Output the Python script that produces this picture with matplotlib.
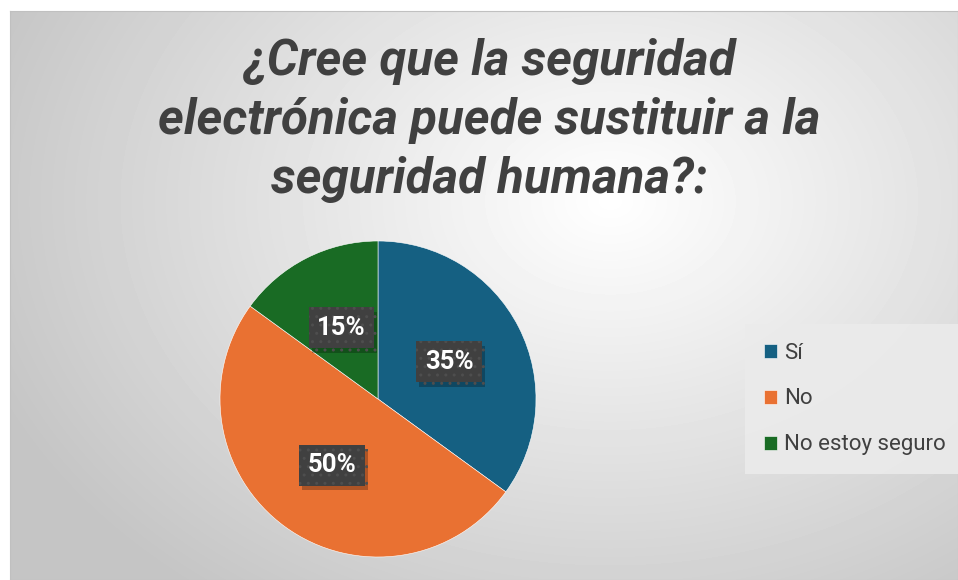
import numpy as np
import matplotlib
matplotlib.use("Agg")
import matplotlib.pyplot as plt
from matplotlib import patheffects

# Chart data
labels = ["Sí", "No", "No estoy seguro"]
values = [35, 50, 15]
colors = ["#156082", "#E97132", "#196B24"]
title = "¿Cree que la seguridad\nelectrónica puede sustituir a la\nseguridad humana?:"

plt.rcParams["hatch.linewidth"] = 1.0

fig = plt.figure(figsize=(9.58, 5.80), dpi=100)
fig.patch.set_facecolor("white")

# gradient background panel (chart area)
bg = fig.add_axes([10 / 958, 0, 948 / 958, 569 / 580])
yy, xx = np.mgrid[0:569, 0:948]
d = np.sqrt(((xx - 600) / 700.0) ** 2 + ((yy - 190) / 520.0) ** 2)
shade = np.clip(1.0 - 0.24 * d, 0.77, 1.0)
bg.imshow(shade, cmap="gray", vmin=0, vmax=1, aspect="auto", interpolation="bilinear")
bg.set_xticks([])
bg.set_yticks([])
for s in bg.spines.values():
    s.set_color("#c0c0c0")
    s.set_linewidth(0.8)

fig.text(0.511, 0.935, title, ha="center", va="top", fontsize=35.5,
         fontweight="bold", fontstyle="italic", color="#404040",
         family="Roboto", linespacing=1.33)

# pie axes
r = 158
cx, cy = 378, 399
ax = fig.add_axes([(cx - r) / 958, (580 - cy - r) / 580, 2 * r / 958, 2 * r / 580])
wedges, _ = ax.pie(values, colors=colors, startangle=90, counterclock=False,
                   wedgeprops=dict(edgecolor="white", linewidth=0.4))
ax.set_xlim(-1, 1)
ax.set_ylim(-1, 1)

# data labels
label_pos = [(0.45, 0.235), (-0.29, -0.42), (-0.23, 0.45)]
for v, (lx, ly) in zip(values, label_pos):
    t = ax.text(lx, ly, f"{v}%", ha="center", va="center", fontsize=18.5,
                fontweight="bold", color="white", family="Roboto",
                bbox=dict(boxstyle="square,pad=0.33", facecolor="#404040",
                          edgecolor="#4e4e4e", linewidth=0, hatch=".."))
    t.get_bbox_patch().set_path_effects(
        [patheffects.withSimplePatchShadow(offset=(2, -3), shadow_rgbFace="#000000", alpha=0.25)])

# legend
leg = fig.legend(wedges, labels, loc="center left", bbox_to_anchor=(745 / 958, 1 - 399 / 580),
                 frameon=True, handlelength=0.6, handleheight=0.6,
                 handletextpad=0.3, labelspacing=1.12, borderpad=0.85, borderaxespad=0,
                 prop={"family": "Roboto", "size": 16})
leg.get_frame().set_facecolor("#ebebeb")
leg.get_frame().set_edgecolor("none")
leg.get_frame().set_alpha(0.9)
leg.get_frame().set_boxstyle("square", pad=0)
for txt in leg.get_texts():
    txt.set_color("#404040")

fig.savefig("out.png", dpi=100, facecolor="white")
